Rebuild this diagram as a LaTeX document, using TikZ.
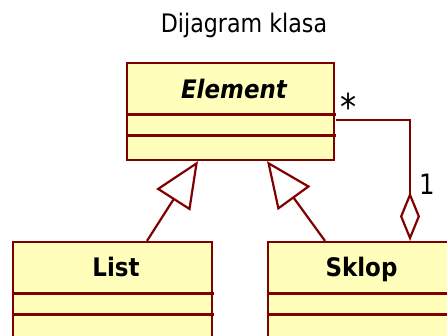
\documentclass[tikz,border=0pt]{standalone}
\usepackage{fontspec}
\newfontfamily\dv[FakeStretch=0.87]{DejaVu Sans}
\newfontfamily\dvb[FakeStretch=0.9]{DejaVu Sans Bold}
\newfontfamily\dvbi[FakeStretch=0.9]{DejaVu Sans Bold Oblique}
\usetikzlibrary{arrows.meta,calc}
\definecolor{umlred}{HTML}{800000}
\definecolor{umlfill}{HTML}{FFFFBB}
\tikzset{
  classbox/.style={draw=umlred, fill=umlfill, line width=2.2pt, rectangle, inner sep=0pt},
  divider/.style={draw=umlred, line width=3pt},
  conn/.style={draw=umlred, line width=2.2pt},
  gen/.style={conn, -{Triangle[open, length=46pt, width=40pt, fill=white]}},
  agg/.style={conn, -{Diamond[open, length=49pt, width=20pt, fill=white]}},
  cname/.style={font=\dvb\fontsize{25.5}{30}\selectfont, anchor=base, inner sep=0pt},
  mult/.style={font=\dv\fontsize{25.5}{30}\selectfont, inner sep=0pt}
}
\begin{document}
\begin{tikzpicture}[x=1pt, y=-1pt]
\useasboundingbox (0,0) rectangle (447,336);
\node[font=\dv\fontsize{25.5}{30}\selectfont, anchor=base, inner sep=0pt] (title) at (244,33) {Dijagram klasa};
% Element
\node[classbox, minimum width=207pt, minimum height=97pt] (E) at (230.5,111.5) {};
\node[cname, font=\dvbi\fontsize{25.5}{30}\selectfont] (Et) at (234,99) {Element};
\draw[divider] (E.west |- 0,115) -- (336,115);
\draw[divider] (E.west |- 0,136) -- (336,136);
% List
\node[classbox, minimum width=199pt, minimum height=120pt] (L) at (112.5,302) {};
\node[cname] (Lt) at (116,277) {List};
\draw[divider] (L.west |- 0,294) -- (214,294);
\draw[divider] (L.west |- 0,315) -- (214,315);
% Sklop
\node[classbox, minimum width=192pt, minimum height=120pt] (S) at (364,302) {};
\node[cname] (St) at (361.5,277) {Sklop};
\draw[divider] (S.west |- 0,294) -- (460,294);
\draw[divider] (S.west |- 0,315) -- (460,315);
% generalizations
\draw[gen] ([xshift=34.5pt]L.north) -- ([xshift=-32.5pt]E.south);
\draw[gen] ([xshift=-39pt]S.north) -- ([xshift=36.5pt]E.south);
% aggregation
\draw[agg] ([yshift=-8.5pt,xshift=1pt]E.east) -| ([xshift=46pt]S.north);
\node[mult, scale=1.45] (star) at (349,107) {*};
\node[mult, anchor=base, scale=1.1] (one) at (427,195) {1};
\end{tikzpicture}
\end{document}
